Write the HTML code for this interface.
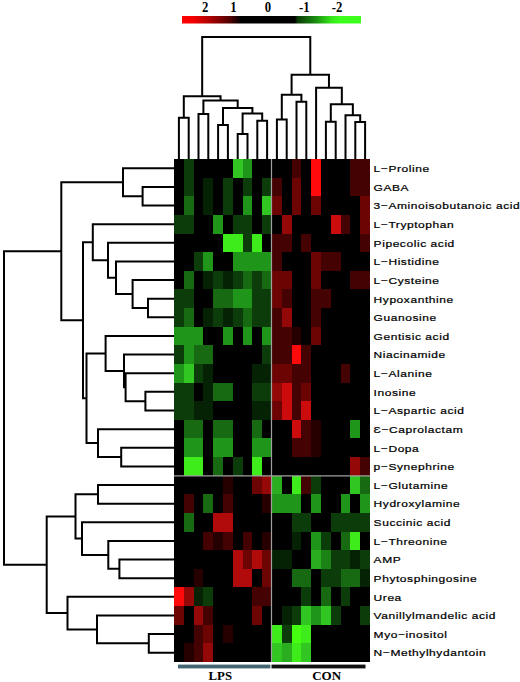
<!DOCTYPE html>
<html><head><meta charset="utf-8"><style>
html,body{margin:0;padding:0;background:#fff;}
body{width:520px;height:682px;overflow:hidden;}
svg{display:block;}
.lab{font-family:"Liberation Sans",sans-serif;font-size:9.5px;letter-spacing:0.45px;fill:#000;stroke:#000;stroke-width:0.22px;}
.ser{font-family:"Liberation Serif",serif;font-weight:bold;fill:#000;}
</style></head><body>
<svg width="520" height="682" viewBox="0 0 520 682">
<defs>
<linearGradient id="cb" x1="182" y1="0" x2="361" y2="0" gradientUnits="userSpaceOnUse">
<stop offset="0.000" stop-color="#ff0000"/>
<stop offset="0.061" stop-color="#f40000"/>
<stop offset="0.173" stop-color="#a00000"/>
<stop offset="0.268" stop-color="#500000"/>
<stop offset="0.330" stop-color="#000000"/>
<stop offset="0.631" stop-color="#000000"/>
<stop offset="0.645" stop-color="#0a3a08"/>
<stop offset="0.743" stop-color="#1a8a10"/>
<stop offset="0.838" stop-color="#38e81a"/>
<stop offset="0.883" stop-color="#3cff1e"/>
<stop offset="1.000" stop-color="#3cff1e"/>
</linearGradient>
</defs>
<rect x="182" y="16" width="179" height="7.5" fill="url(#cb)"/>
<g class="ser" font-size="13.8">
<text transform="translate(205.1 12.3) scale(0.92 1)" text-anchor="middle">2</text>
<text transform="translate(233.5 12.3) scale(0.92 1)" text-anchor="middle">1</text>
<text transform="translate(268 12.3) scale(0.92 1)" text-anchor="middle">0</text>
<text transform="translate(304.4 12.3) scale(0.92 1)" text-anchor="middle">-1</text>
<text transform="translate(337 12.3) scale(0.92 1)" text-anchor="middle">-2</text>
</g>
<rect x="174.0" y="159.0" width="196.00" height="503.00" fill="#000"/>
<g shape-rendering="crispEdges"><rect x="183.80" y="159.00" width="9.80" height="18.63" fill="#0b3c09"/><rect x="232.80" y="159.00" width="9.80" height="18.63" fill="#32c622"/><rect x="242.60" y="159.00" width="9.80" height="18.63" fill="#1f961a"/><rect x="291.60" y="159.00" width="9.80" height="18.63" fill="#440202"/><rect x="311.20" y="159.00" width="9.80" height="18.63" fill="#ff0a0a"/><rect x="350.40" y="159.00" width="19.60" height="18.63" fill="#440202"/><rect x="183.80" y="177.63" width="9.80" height="18.63" fill="#0b3c09"/><rect x="203.40" y="177.63" width="9.80" height="18.63" fill="#052204"/><rect x="223.00" y="177.63" width="9.80" height="18.63" fill="#0b3c09"/><rect x="242.60" y="177.63" width="9.80" height="18.63" fill="#0b3c09"/><rect x="262.20" y="177.63" width="9.80" height="18.63" fill="#0b3c09"/><rect x="272.00" y="177.63" width="9.80" height="18.63" fill="#440202"/><rect x="291.60" y="177.63" width="9.80" height="18.63" fill="#6c0404"/><rect x="311.20" y="177.63" width="9.80" height="18.63" fill="#ff0a0a"/><rect x="350.40" y="177.63" width="19.60" height="18.63" fill="#440202"/><rect x="183.80" y="196.26" width="9.80" height="18.63" fill="#176a12"/><rect x="203.40" y="196.26" width="9.80" height="18.63" fill="#052204"/><rect x="223.00" y="196.26" width="9.80" height="18.63" fill="#0b3c09"/><rect x="242.60" y="196.26" width="9.80" height="18.63" fill="#1f961a"/><rect x="262.20" y="196.26" width="9.80" height="18.63" fill="#32c622"/><rect x="272.00" y="196.26" width="9.80" height="18.63" fill="#6c0404"/><rect x="291.60" y="196.26" width="9.80" height="18.63" fill="#6c0404"/><rect x="311.20" y="196.26" width="9.80" height="18.63" fill="#6c0404"/><rect x="360.20" y="196.26" width="9.80" height="18.63" fill="#6c0404"/><rect x="174.00" y="214.89" width="19.60" height="18.63" fill="#0b3c09"/><rect x="213.20" y="214.89" width="9.80" height="18.63" fill="#1f961a"/><rect x="232.80" y="214.89" width="19.60" height="18.63" fill="#0b3c09"/><rect x="262.20" y="214.89" width="9.80" height="18.63" fill="#0b3c09"/><rect x="281.80" y="214.89" width="9.80" height="18.63" fill="#940808"/><rect x="330.80" y="214.89" width="9.80" height="18.63" fill="#cc0c0c"/><rect x="340.60" y="214.89" width="9.80" height="18.63" fill="#440202"/><rect x="360.20" y="214.89" width="9.80" height="18.63" fill="#6c0404"/><rect x="223.00" y="233.52" width="19.60" height="18.63" fill="#3eec1c"/><rect x="242.60" y="233.52" width="9.80" height="18.63" fill="#0b3c09"/><rect x="252.40" y="233.52" width="9.80" height="18.63" fill="#3eec1c"/><rect x="272.00" y="233.52" width="19.60" height="18.63" fill="#440202"/><rect x="301.40" y="233.52" width="9.80" height="18.63" fill="#440202"/><rect x="360.20" y="233.52" width="9.80" height="18.63" fill="#440202"/><rect x="193.60" y="252.15" width="9.80" height="18.63" fill="#0b3c09"/><rect x="203.40" y="252.15" width="9.80" height="18.63" fill="#1f961a"/><rect x="232.80" y="252.15" width="39.20" height="18.63" fill="#1f961a"/><rect x="272.00" y="252.15" width="9.80" height="18.63" fill="#440202"/><rect x="311.20" y="252.15" width="9.80" height="18.63" fill="#6c0404"/><rect x="321.00" y="252.15" width="19.60" height="18.63" fill="#440202"/><rect x="183.80" y="270.78" width="9.80" height="18.63" fill="#176a12"/><rect x="203.40" y="270.78" width="9.80" height="18.63" fill="#052204"/><rect x="213.20" y="270.78" width="9.80" height="18.63" fill="#0b3c09"/><rect x="223.00" y="270.78" width="9.80" height="18.63" fill="#052204"/><rect x="232.80" y="270.78" width="9.80" height="18.63" fill="#0b3c09"/><rect x="242.60" y="270.78" width="9.80" height="18.63" fill="#176a12"/><rect x="252.40" y="270.78" width="9.80" height="18.63" fill="#0b3c09"/><rect x="262.20" y="270.78" width="9.80" height="18.63" fill="#176a12"/><rect x="272.00" y="270.78" width="19.60" height="18.63" fill="#6c0404"/><rect x="311.20" y="270.78" width="9.80" height="18.63" fill="#6c0404"/><rect x="350.40" y="270.78" width="19.60" height="18.63" fill="#440202"/><rect x="174.00" y="289.41" width="19.60" height="18.63" fill="#0b3c09"/><rect x="213.20" y="289.41" width="19.60" height="18.63" fill="#176a12"/><rect x="232.80" y="289.41" width="19.60" height="18.63" fill="#1f961a"/><rect x="252.40" y="289.41" width="19.60" height="18.63" fill="#0b3c09"/><rect x="272.00" y="289.41" width="9.80" height="18.63" fill="#6c0404"/><rect x="281.80" y="289.41" width="9.80" height="18.63" fill="#440202"/><rect x="311.20" y="289.41" width="19.60" height="18.63" fill="#440202"/><rect x="174.00" y="308.04" width="9.80" height="18.63" fill="#0b3c09"/><rect x="183.80" y="308.04" width="9.80" height="18.63" fill="#176a12"/><rect x="203.40" y="308.04" width="9.80" height="18.63" fill="#052204"/><rect x="213.20" y="308.04" width="9.80" height="18.63" fill="#0b3c09"/><rect x="223.00" y="308.04" width="9.80" height="18.63" fill="#052204"/><rect x="232.80" y="308.04" width="9.80" height="18.63" fill="#0b3c09"/><rect x="242.60" y="308.04" width="9.80" height="18.63" fill="#176a12"/><rect x="252.40" y="308.04" width="19.60" height="18.63" fill="#0b3c09"/><rect x="272.00" y="308.04" width="9.80" height="18.63" fill="#440202"/><rect x="281.80" y="308.04" width="9.80" height="18.63" fill="#940808"/><rect x="311.20" y="308.04" width="9.80" height="18.63" fill="#440202"/><rect x="174.00" y="326.67" width="29.40" height="18.63" fill="#1f961a"/><rect x="223.00" y="326.67" width="9.80" height="18.63" fill="#1f961a"/><rect x="242.60" y="326.67" width="9.80" height="18.63" fill="#1f961a"/><rect x="262.20" y="326.67" width="9.80" height="18.63" fill="#1f961a"/><rect x="272.00" y="326.67" width="19.60" height="18.63" fill="#440202"/><rect x="291.60" y="326.67" width="9.80" height="18.63" fill="#260000"/><rect x="311.20" y="326.67" width="9.80" height="18.63" fill="#6c0404"/><rect x="174.00" y="345.30" width="9.80" height="18.63" fill="#0b3c09"/><rect x="183.80" y="345.30" width="9.80" height="18.63" fill="#1f961a"/><rect x="193.60" y="345.30" width="19.60" height="18.63" fill="#176a12"/><rect x="262.20" y="345.30" width="9.80" height="18.63" fill="#0b3c09"/><rect x="272.00" y="345.30" width="19.60" height="18.63" fill="#440202"/><rect x="291.60" y="345.30" width="9.80" height="18.63" fill="#ff0a0a"/><rect x="301.40" y="345.30" width="9.80" height="18.63" fill="#440202"/><rect x="174.00" y="363.93" width="9.80" height="18.63" fill="#1f961a"/><rect x="183.80" y="363.93" width="9.80" height="18.63" fill="#32c622"/><rect x="193.60" y="363.93" width="9.80" height="18.63" fill="#0b3c09"/><rect x="203.40" y="363.93" width="9.80" height="18.63" fill="#052204"/><rect x="252.40" y="363.93" width="19.60" height="18.63" fill="#052204"/><rect x="272.00" y="363.93" width="19.60" height="18.63" fill="#6c0404"/><rect x="291.60" y="363.93" width="19.60" height="18.63" fill="#440202"/><rect x="340.60" y="363.93" width="9.80" height="18.63" fill="#440202"/><rect x="174.00" y="382.56" width="19.60" height="18.63" fill="#0b3c09"/><rect x="203.40" y="382.56" width="9.80" height="18.63" fill="#052204"/><rect x="213.20" y="382.56" width="19.60" height="18.63" fill="#176a12"/><rect x="252.40" y="382.56" width="19.60" height="18.63" fill="#0b3c09"/><rect x="272.00" y="382.56" width="9.80" height="18.63" fill="#940808"/><rect x="281.80" y="382.56" width="9.80" height="18.63" fill="#cc0c0c"/><rect x="291.60" y="382.56" width="9.80" height="18.63" fill="#440202"/><rect x="301.40" y="382.56" width="9.80" height="18.63" fill="#6c0404"/><rect x="174.00" y="401.19" width="19.60" height="18.63" fill="#0b3c09"/><rect x="193.60" y="401.19" width="19.60" height="18.63" fill="#052204"/><rect x="252.40" y="401.19" width="19.60" height="18.63" fill="#052204"/><rect x="272.00" y="401.19" width="9.80" height="18.63" fill="#6c0404"/><rect x="281.80" y="401.19" width="9.80" height="18.63" fill="#cc0c0c"/><rect x="291.60" y="401.19" width="9.80" height="18.63" fill="#440202"/><rect x="301.40" y="401.19" width="9.80" height="18.63" fill="#cc0c0c"/><rect x="183.80" y="419.81" width="19.60" height="18.63" fill="#176a12"/><rect x="213.20" y="419.81" width="19.60" height="18.63" fill="#176a12"/><rect x="252.40" y="419.81" width="9.80" height="18.63" fill="#176a12"/><rect x="291.60" y="419.81" width="9.80" height="18.63" fill="#cc0c0c"/><rect x="301.40" y="419.81" width="9.80" height="18.63" fill="#440202"/><rect x="311.20" y="419.81" width="9.80" height="18.63" fill="#260000"/><rect x="350.40" y="419.81" width="9.80" height="18.63" fill="#1f961a"/><rect x="183.80" y="438.44" width="19.60" height="18.63" fill="#1f961a"/><rect x="213.20" y="438.44" width="19.60" height="18.63" fill="#1f961a"/><rect x="252.40" y="438.44" width="19.60" height="18.63" fill="#1f961a"/><rect x="291.60" y="438.44" width="19.60" height="18.63" fill="#440202"/><rect x="311.20" y="438.44" width="9.80" height="18.63" fill="#260000"/><rect x="183.80" y="457.07" width="19.60" height="18.63" fill="#3eec1c"/><rect x="213.20" y="457.07" width="9.80" height="18.63" fill="#176a12"/><rect x="232.80" y="457.07" width="9.80" height="18.63" fill="#0b3c09"/><rect x="252.40" y="457.07" width="9.80" height="18.63" fill="#3eec1c"/><rect x="350.40" y="457.07" width="9.80" height="18.63" fill="#940808"/><rect x="360.20" y="457.07" width="9.80" height="18.63" fill="#440202"/><rect x="223.00" y="475.70" width="9.80" height="18.63" fill="#260000"/><rect x="252.40" y="475.70" width="9.80" height="18.63" fill="#6c0404"/><rect x="262.20" y="475.70" width="9.80" height="18.63" fill="#940808"/><rect x="272.00" y="475.70" width="9.80" height="18.63" fill="#2aae20"/><rect x="291.60" y="475.70" width="9.80" height="18.63" fill="#3eec1c"/><rect x="301.40" y="475.70" width="9.80" height="18.63" fill="#440202"/><rect x="311.20" y="475.70" width="9.80" height="18.63" fill="#0b3c09"/><rect x="350.40" y="475.70" width="9.80" height="18.63" fill="#32c622"/><rect x="360.20" y="475.70" width="9.80" height="18.63" fill="#176a12"/><rect x="183.80" y="494.33" width="9.80" height="18.63" fill="#440202"/><rect x="203.40" y="494.33" width="9.80" height="18.63" fill="#176a12"/><rect x="223.00" y="494.33" width="9.80" height="18.63" fill="#440202"/><rect x="262.20" y="494.33" width="9.80" height="18.63" fill="#260000"/><rect x="272.00" y="494.33" width="29.40" height="18.63" fill="#1f961a"/><rect x="311.20" y="494.33" width="9.80" height="18.63" fill="#1f961a"/><rect x="340.60" y="494.33" width="9.80" height="18.63" fill="#1f961a"/><rect x="360.20" y="494.33" width="9.80" height="18.63" fill="#1f961a"/><rect x="183.80" y="512.96" width="9.80" height="18.63" fill="#176a12"/><rect x="213.20" y="512.96" width="19.60" height="18.63" fill="#b00a0a"/><rect x="291.60" y="512.96" width="19.60" height="18.63" fill="#0b3c09"/><rect x="330.80" y="512.96" width="39.20" height="18.63" fill="#0b3c09"/><rect x="203.40" y="531.59" width="9.80" height="18.63" fill="#440202"/><rect x="213.20" y="531.59" width="9.80" height="18.63" fill="#260000"/><rect x="223.00" y="531.59" width="9.80" height="18.63" fill="#440202"/><rect x="242.60" y="531.59" width="9.80" height="18.63" fill="#440202"/><rect x="262.20" y="531.59" width="9.80" height="18.63" fill="#260000"/><rect x="291.60" y="531.59" width="9.80" height="18.63" fill="#052204"/><rect x="311.20" y="531.59" width="9.80" height="18.63" fill="#1f961a"/><rect x="321.00" y="531.59" width="9.80" height="18.63" fill="#0b3c09"/><rect x="340.60" y="531.59" width="9.80" height="18.63" fill="#176a12"/><rect x="350.40" y="531.59" width="9.80" height="18.63" fill="#3eec1c"/><rect x="232.80" y="550.22" width="9.80" height="18.63" fill="#b00a0a"/><rect x="242.60" y="550.22" width="9.80" height="18.63" fill="#6c0404"/><rect x="252.40" y="550.22" width="9.80" height="18.63" fill="#b00a0a"/><rect x="262.20" y="550.22" width="9.80" height="18.63" fill="#6c0404"/><rect x="272.00" y="550.22" width="19.60" height="18.63" fill="#052204"/><rect x="311.20" y="550.22" width="9.80" height="18.63" fill="#2aae20"/><rect x="321.00" y="550.22" width="9.80" height="18.63" fill="#1b8216"/><rect x="330.80" y="550.22" width="19.60" height="18.63" fill="#0b3c09"/><rect x="350.40" y="550.22" width="9.80" height="18.63" fill="#052204"/><rect x="360.20" y="550.22" width="9.80" height="18.63" fill="#0b3c09"/><rect x="193.60" y="568.85" width="9.80" height="18.63" fill="#260000"/><rect x="232.80" y="568.85" width="19.60" height="18.63" fill="#b00a0a"/><rect x="262.20" y="568.85" width="9.80" height="18.63" fill="#6c0404"/><rect x="291.60" y="568.85" width="19.60" height="18.63" fill="#176a12"/><rect x="321.00" y="568.85" width="19.60" height="18.63" fill="#0b3c09"/><rect x="340.60" y="568.85" width="19.60" height="18.63" fill="#176a12"/><rect x="360.20" y="568.85" width="9.80" height="18.63" fill="#052204"/><rect x="174.00" y="587.48" width="9.80" height="18.63" fill="#ff0a0a"/><rect x="183.80" y="587.48" width="9.80" height="18.63" fill="#940808"/><rect x="193.60" y="587.48" width="9.80" height="18.63" fill="#052204"/><rect x="203.40" y="587.48" width="9.80" height="18.63" fill="#0b3c09"/><rect x="252.40" y="587.48" width="19.60" height="18.63" fill="#440202"/><rect x="301.40" y="587.48" width="9.80" height="18.63" fill="#0b3c09"/><rect x="321.00" y="587.48" width="9.80" height="18.63" fill="#176a12"/><rect x="340.60" y="587.48" width="9.80" height="18.63" fill="#0b3c09"/><rect x="174.00" y="606.11" width="9.80" height="18.63" fill="#6c0404"/><rect x="193.60" y="606.11" width="9.80" height="18.63" fill="#940808"/><rect x="203.40" y="606.11" width="9.80" height="18.63" fill="#440202"/><rect x="252.40" y="606.11" width="9.80" height="18.63" fill="#6c0404"/><rect x="281.80" y="606.11" width="9.80" height="18.63" fill="#052204"/><rect x="291.60" y="606.11" width="9.80" height="18.63" fill="#0b3c09"/><rect x="301.40" y="606.11" width="9.80" height="18.63" fill="#32c622"/><rect x="311.20" y="606.11" width="9.80" height="18.63" fill="#1f961a"/><rect x="321.00" y="606.11" width="9.80" height="18.63" fill="#32c622"/><rect x="330.80" y="606.11" width="9.80" height="18.63" fill="#0b3c09"/><rect x="360.20" y="606.11" width="9.80" height="18.63" fill="#0b3c09"/><rect x="193.60" y="624.74" width="9.80" height="18.63" fill="#440202"/><rect x="203.40" y="624.74" width="9.80" height="18.63" fill="#6c0404"/><rect x="223.00" y="624.74" width="9.80" height="18.63" fill="#260000"/><rect x="272.00" y="624.74" width="9.80" height="18.63" fill="#3eec1c"/><rect x="281.80" y="624.74" width="9.80" height="18.63" fill="#0b3c09"/><rect x="291.60" y="624.74" width="9.80" height="18.63" fill="#44ff10"/><rect x="301.40" y="624.74" width="9.80" height="18.63" fill="#3eec1c"/><rect x="183.80" y="643.37" width="9.80" height="18.63" fill="#260000"/><rect x="193.60" y="643.37" width="9.80" height="18.63" fill="#440202"/><rect x="203.40" y="643.37" width="9.80" height="18.63" fill="#940808"/><rect x="272.00" y="643.37" width="9.80" height="18.63" fill="#32c622"/><rect x="281.80" y="643.37" width="9.80" height="18.63" fill="#2aae20"/><rect x="291.60" y="643.37" width="9.80" height="18.63" fill="#3eec1c"/><rect x="301.40" y="643.37" width="9.80" height="18.63" fill="#32c622"/></g>
<path d="M271.5 159.0 V662 M174.0 475.8 H370" stroke="#a0a0a0" stroke-width="1.2" fill="none"/>
<path d="M61.3 251.27H4.0V564.78H46.7M123.0 182.29H61.3V320.26H83.0M174.0 168.31H123.0V196.26H142.6M174.0 186.94H142.6V205.57H174.0M92.8 242.25H83.0V398.27H86.5M174.0 224.20H92.8V260.30H108.0M174.0 242.83H108.0V277.76H116.0M174.0 261.46H116.0V294.06H132.6M174.0 280.09H132.6V308.04H148.0M174.0 298.72H148.0V317.35H174.0M105.6 353.45H86.5V443.10H98.0M174.0 335.98H105.6V370.91H124.0M174.0 354.61H124.0V387.21H125.6M174.0 373.24H125.6V401.19H145.4M174.0 391.87H145.4V410.50H174.0M174.0 429.13H98.0V457.07H121.2M174.0 447.76H121.2V466.39H174.0M75.5 516.46H46.7V613.10H67.5M98.0 494.33H75.5V538.58H82.0M174.0 485.02H98.0V503.65H174.0M174.0 522.28H82.0V554.88H108.3M174.0 540.91H108.3V568.85H119.4M174.0 559.54H119.4V578.17H174.0M174.0 596.80H67.5V629.40H97.0M174.0 615.43H97.0V643.37H148.8M174.0 634.06H148.8V652.69H174.0M202.18 96.3V37.0H310.28V74.7M183.80 117.7V96.3H220.55V100.5M178.90 159.0V117.7H188.70V159.0M203.40 113.9V100.5H237.70V108.1M198.50 159.0V113.9H208.30V159.0M223.00 125.1V108.1H252.40V113.4M218.10 159.0V125.1H227.90V159.0M242.60 134.0V113.4H262.20V120.8M237.70 159.0V134.0H247.50V159.0M257.30 159.0V120.8H267.10V159.0M291.60 94.8V74.7H328.96V87.8M281.80 119.6V94.8H301.40V101.8M276.90 159.0V119.6H286.70V159.0M296.50 159.0V101.8H306.30V159.0M316.10 159.0V87.8H341.83V104.3M330.80 121.7V104.3H352.85V115.3M325.90 159.0V121.7H335.70V159.0M345.50 159.0V115.3H360.20V121.9M355.30 159.0V121.9H365.10V159.0" stroke="#000" stroke-width="2" fill="none" stroke-linejoin="miter" stroke-linecap="butt"/>
<g class="lab" transform="translate(373.6 0) scale(1.263 1)">
<text x="0" y="172.11">L−Proline</text><text x="0" y="190.74">GABA</text><text x="0" y="209.37">3−Aminoisobutanoic acid</text><text x="0" y="228.00">L−Tryptophan</text><text x="0" y="246.63">Pipecolic acid</text><text x="0" y="265.26">L−Histidine</text><text x="0" y="283.89">L−Cysteine</text><text x="0" y="302.52">Hypoxanthine</text><text x="0" y="321.15">Guanosine</text><text x="0" y="339.78">Gentisic acid</text><text x="0" y="358.41">Niacinamide</text><text x="0" y="377.04">L−Alanine</text><text x="0" y="395.67">Inosine</text><text x="0" y="414.30">L−Aspartic acid</text><text x="0" y="432.93">Ɛ−Caprolactam</text><text x="0" y="451.56">L−Dopa</text><text x="0" y="470.19">p−Synephrine</text><text x="0" y="488.82">L−Glutamine</text><text x="0" y="507.45">Hydroxylamine</text><text x="0" y="526.08">Succinic acid</text><text x="0" y="544.71">L−Threonine</text><text x="0" y="563.34">AMP</text><text x="0" y="581.97">Phytosphingosine</text><text x="0" y="600.60">Urea</text><text x="0" y="619.23">Vanillylmandelic acid</text><text x="0" y="637.86">Myo−inositol</text><text x="0" y="656.49">N−Methylhydantoin</text>
</g>
<rect x="178" y="664.6" width="92.4" height="3.8" fill="#436670"/>
<rect x="271.5" y="664.6" width="94" height="3.8" fill="#111"/>
<g class="ser" font-size="12.2">
<text transform="translate(220.3 680) scale(1.05 1)" text-anchor="middle">LPS</text>
<text transform="translate(326.7 680) scale(1.07 1)" text-anchor="middle">CON</text>
</g>
</svg>
</body></html>
